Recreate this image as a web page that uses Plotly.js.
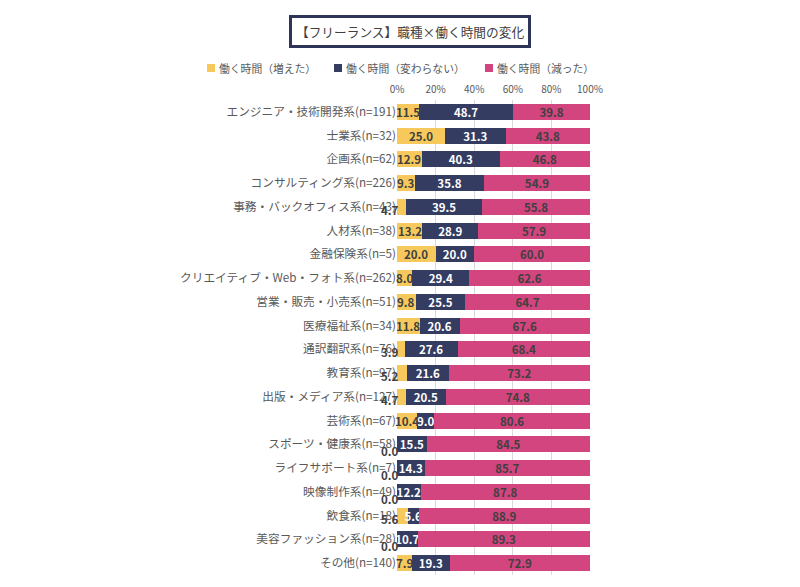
<!DOCTYPE html>
<html><head><meta charset="utf-8">
<script src="https://cdn.plot.ly/plotly-3.0.1.min.js"></script>
<style>body{margin:0;background:#fff}#chart{width:800px;height:587px}</style>
</head><body><div id="chart"></div>
<script>
const categories = ["エンジニア・技術開発系(n=191)","士業系(n=32)","企画系(n=62)","コンサルティング系(n=226)","事務・バックオフィス系(n=43)","人材系(n=38)","金融保険系(n=5)","クリエイティブ・Web・フォト系(n=262)","営業・販売・小売系(n=51)","医療福祉系(n=34)","通訳翻訳系(n=76)","教育系(n=97)","出版・メディア系(n=127)","芸術系(n=67)","スポーツ・健康系(n=58)","ライフサポート系(n=7)","映像制作系(n=49)","飲食系(n=18)","美容ファッション系(n=28)","その他(n=140)"];
const increased = [11.5,25.0,12.9,9.3,4.7,13.2,20.0,8.0,9.8,11.8,3.9,5.2,4.7,10.4,0.0,0.0,0.0,5.6,0.0,7.9];
const unchanged = [48.7,31.3,40.3,35.8,39.5,28.9,20.0,29.4,25.5,20.6,27.6,21.6,20.5,9.0,15.5,14.3,12.2,5.6,10.7,19.3];
const decreased = [39.8,43.8,46.8,54.9,55.8,57.9,60.0,62.6,64.7,67.6,68.4,73.2,74.8,80.6,84.5,85.7,87.8,88.9,89.3,72.9];
const seriesNames = ["働く時間（増えた）","働く時間（変わらない）","働く時間（減った）"];
const tickVals = [0,20,40,60,80,100];
const tickText = ["0%","20%","40%","60%","80%","100%"];

const colors = ["#F7C95C", "#343C61", "#D2457F"];
const FONT = "'Noto Sans CJK JP', 'Noto Sans', sans-serif";
const lblFont = {family:FONT, size:11.5, color:"#404040"};

// plot area in pixels (for converting layout positions to paper coords)
const L = 397, R = 590, T = 100, B = 575;
const px = x => (x - L) / (R - L);
const py = y => (B - y) / (B - T);

const fmt = v => v.toFixed(1);
const traces = [
  {name:seriesNames[0], y:categories, x:increased, type:'bar', orientation:'h', marker:{color:colors[0]}},
  {name:seriesNames[1], y:categories, x:unchanged, type:'bar', orientation:'h', marker:{color:colors[1]},
   text:unchanged.map(fmt), textposition:'inside', insidetextanchor:'middle', constraintext:'none', textangle:0,
   textfont:Object.assign({}, lblFont, {color:'#ffffff', weight:'bold'})},
  {name:seriesNames[2], y:categories, x:decreased, type:'bar', orientation:'h', marker:{color:colors[2]},
   text:decreased.map(fmt), textposition:'inside', insidetextanchor:'middle', constraintext:'none', textangle:0,
   textfont:Object.assign({}, lblFont, {color:'#404040', weight:'bold'})}
];

const annotations = increased.map((v,i) => {
  const small = v < 6;
  return {
    x: small ? 0 : v/2, y: categories[i], xref:'x', yref:'y',
    text: fmt(v), showarrow:false,
    xanchor: small ? 'right' : 'center', yanchor:'middle',
    xshift: small ? 4 : 0,
    yshift: small ? (v === 0 ? -7 : -3) : 0,
    font: Object.assign({}, lblFont, {weight:'bold'})
  };
});
// title box
annotations.push({
  xref:'paper', yref:'paper', x:px(410), y:py(32), xanchor:'center', yanchor:'middle',
  text:"【フリーランス】職種×働く時間の変化", showarrow:false,
  font:{family:FONT, size:12.7, color:"#404040"},
  bordercolor:"#2E3558", borderwidth:3, borderpad:4, bgcolor:"#ffffff"
});
// manual legend
const legSquareX = [207, 334, 485];
const shapes = [];
seriesNames.forEach((n,i) => {
  shapes.push({type:'rect', xref:'paper', yref:'paper', x0:px(legSquareX[i]), x1:px(legSquareX[i]+8),
               y0:py(72), y1:py(64), fillcolor:colors[i], line:{width:0}});
  annotations.push({xref:'paper', yref:'paper', x:px(legSquareX[i]+10), y:py(68), xanchor:'left', yanchor:'middle',
               text:n, showarrow:false, font:{family:FONT, size:10.8, color:'#595959'}});
});

const layout = {
  width:800, height:587,
  margin:{l:L, r:800-R, t:T, b:587-B},
  barmode:'stack', bargap:0.32,
  paper_bgcolor:'#fff', plot_bgcolor:'#fff',
  font:{family:FONT, color:'#595959'},
  xaxis:{side:'top', range:[0,100], tickmode:'array', tickvals:tickVals, ticktext:tickText,
         showgrid:true, gridcolor:'#D9D9D9', gridwidth:1, zeroline:false, ticklabelstandoff:4,
         tickfont:{size:10, color:'#595959'}, ticklen:0, fixedrange:true, automargin:false},
  yaxis:{autorange:'reversed', tickfont:{size:11.7, color:'#595959'}, ticks:'', ticklen:0,
         showgrid:false, zeroline:false, showline:false, fixedrange:true, automargin:false},
  showlegend:false,
  shapes: shapes,
  annotations: annotations
};
Plotly.newPlot('chart', traces, layout, {displayModeBar:false, staticPlot:true});
</script></body></html>
